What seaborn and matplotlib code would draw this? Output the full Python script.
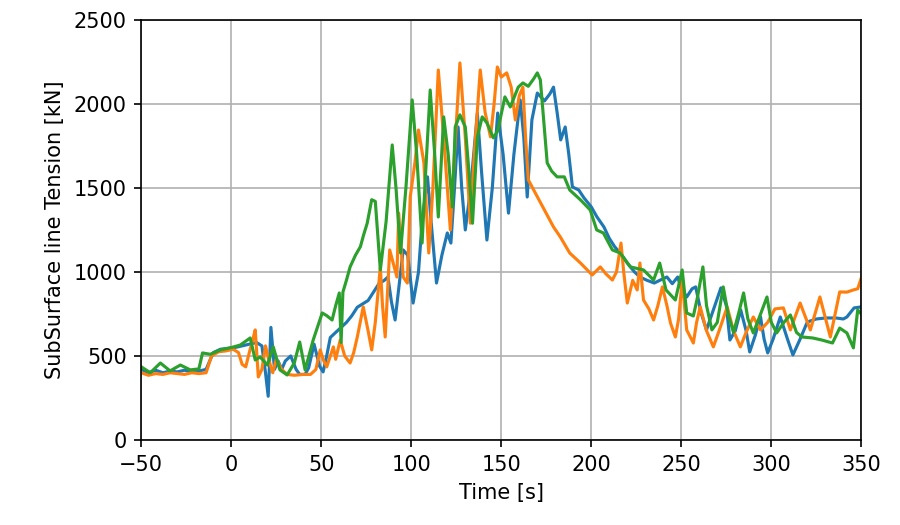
import matplotlib
matplotlib.use("Agg")
import matplotlib.pyplot as plt
import seaborn as sns
import pandas as pd

# ---- data ----
blue_t = [-50, -46, -42, -38, -34, -30, -26, -22, -18, -14, -10, -6, -2, 2, 6, 10, 14, 17, 19, 20.5,
          22, 24, 26, 28, 30, 33, 36, 38, 41, 43, 46, 49, 51, 53, 55, 58, 61, 64, 67, 70,
          73, 76, 79, 82, 85, 87, 89, 91, 93, 95.5, 98, 101, 104, 106, 109, 111, 114, 117, 120, 122,
          124, 126, 128, 130, 133, 136.7, 139, 142, 145, 148, 151, 154, 157, 160.5, 162.5, 164.4, 167, 170, 174, 177,
          179, 181, 183, 185.5, 187.5, 189.5, 193, 196, 200, 203, 207, 210, 213, 217, 220, 224, 227, 231, 235,
          238, 242, 245, 248, 250, 253, 256, 258, 261, 264, 268, 272, 275, 277, 280, 283, 286,
          288, 291, 294, 296, 298, 301, 305, 309, 312, 316, 320, 325, 330, 336, 340, 342, 346, 350]
blue_v = [420, 400, 415, 400, 410, 405, 415, 405, 410, 420,
          520, 540, 545, 550, 560, 570, 580, 560, 400, 260,
          670, 420, 470, 420, 470, 500, 420, 390, 390, 430,
          570, 440, 405, 500, 610, 640, 670, 700, 740, 790,
          810, 830, 880, 930, 950, 970, 820, 714, 900, 1131,
          1100, 815, 1000, 1300, 1566, 1300, 934, 1100, 1232, 1172,
          1500, 1863, 1500, 1250, 1500, 1946, 1600, 1190, 1500, 1946,
          1700, 1350, 1700, 2024, 1800, 1446, 1905, 2065, 2018, 2060,
          2100, 1950, 1786, 1863, 1700, 1506, 1488, 1440, 1387, 1330,
          1268, 1200, 1150, 1100, 1053, 1000, 970, 950, 934,
          950, 970, 930, 970, 900, 851, 900, 911, 756, 655, 780, 905, 800, 595, 650, 774, 650,
          524, 620, 733, 600, 518, 600, 732, 600, 506, 600, 702, 720, 726, 726, 720, 732, 786, 792]

orange_t = [-50, -46, -42, -38, -34, -30, -26, -22, -18, -14,
            -11, -7, -3, 1, 4, 6, 8, 10, 12, 13.3,
            15, 17, 19, 21, 23, 25, 28, 31, 35, 40,
            44, 47, 49.4, 51, 53, 55, 56.7, 58, 60.5, 63,
            66, 68, 70, 73.3, 76, 78, 80, 82.8, 84, 85.5,
            88, 90, 92, 93, 95.5, 97.8, 99.4, 102, 104, 107,
            109.7, 112, 115, 118, 121.7, 124, 127, 130, 132.8, 135,
            138.3, 141, 144, 146, 147.8, 150, 153, 155.5, 157.8, 160,
            162, 163.5, 165, 168, 173, 179, 182.8, 188, 194, 200.5,
            205, 208, 211.7, 214, 216.5, 218, 220, 223, 225.5, 227,
            229, 232, 234.6, 237, 239.5, 242, 244, 246.7, 248.5, 250.5,
            253, 256.7, 258.5, 260.5, 264, 267.8, 271, 275.5, 279, 282.8,
            286, 290, 294, 298, 302, 306.7, 310.6, 316, 321.7, 327,
            332.8, 338, 342, 345.6, 348, 350]
orange_v = [400, 385, 395, 390, 400, 395, 390, 400, 395, 400,
            500, 525, 530, 540, 520, 450, 435, 520, 600, 655,
            375, 420, 560, 470, 400, 480, 420, 390, 385, 390,
            390, 420, 536, 480, 435, 500, 554, 480, 595, 500,
            458, 520, 613, 792, 650, 536, 700, 1030, 800, 613,
            1131, 1050, 970, 1350, 970, 934, 1446, 1650, 1845, 1650,
            1113, 1500, 2202, 1800, 1250, 1700, 2244, 1800, 1290, 1700,
            2202, 1950, 1804, 2000, 2220, 2160, 2185, 2100, 1905, 2050,
            2100, 1800, 1548, 1488, 1387, 1268, 1208, 1113, 1053, 982,
            1030, 990, 952, 1000, 1172, 1000, 815, 950, 893, 1053,
            833, 780, 714, 800, 911, 800, 696, 613, 720, 950,
            655, 577, 700, 792, 650, 554, 650, 792, 650, 554,
            640, 732, 655, 700, 780, 786, 655, 815, 655, 851,
            613, 881, 880, 893, 900, 964]

green_t = [-50, -45, -39.4, -34, -28.3, -22.8, -18, -16, -11.7, -6,
           0, 5, 10.5, 13.3, 16, 20, 23.3, 27, 31, 35,
           38, 41, 45.5, 50.5, 53, 56, 58, 60, 61, 62,
           64, 66, 69, 71.7, 73.5, 75.5, 78, 80, 82.8, 86,
           89.4, 91.5, 94, 97, 100.5, 103, 106, 108, 110.5, 113,
           115, 118, 120.5, 122.8, 124.4, 127, 130, 132, 134, 136.7,
           139.4, 142, 145.6, 148, 152, 155, 159.4, 162, 165, 168,
           170, 171.7, 175.5, 178, 181, 185, 188, 194, 199.4, 203,
           206.7, 211.7, 216, 221.7, 229, 234.6, 238, 241.5, 246.7, 250.5,
           253, 256.7, 259, 262, 264, 267, 270, 273.3, 276, 279,
           282, 284.6, 287, 290, 293, 297.6, 300, 303, 307, 310.6,
           314, 317, 323, 328, 334, 338, 342, 345.6, 348, 350]
green_v = [435, 400, 458, 411, 446, 417, 423, 518, 510, 536,
           550, 565, 607, 476, 494, 446, 554, 417, 387, 458,
           583, 417, 595, 756, 740, 714, 800, 875, 580, 880,
           952, 1030, 1100, 1150, 1220, 1290, 1430, 1420, 1012, 1300,
           1756, 1500, 1113, 1500, 2024, 1700, 1172, 1600, 2083, 1700,
           1327, 1923, 1700, 1387, 1863, 1935, 1863, 1600, 1290, 1804,
           1923, 1887, 1798, 1840, 2042, 1982, 2100, 2125, 2105, 2150,
           2185, 2143, 1649, 1600, 1566, 1566, 1488, 1429, 1369, 1250,
           1232, 1131, 1113, 1030, 1012, 952, 1053, 893, 833, 1012,
           756, 738, 850, 1030, 800, 655, 700, 911, 750, 640,
           760, 875, 720, 637, 720, 851, 700, 637, 700, 744,
           640, 613, 607, 595, 577, 666, 637, 548, 774, 750]

x_ticks = [-50, 0, 50, 100, 150, 200, 250, 300, 350]
y_ticks = [0, 500, 1000, 1500, 2000, 2500]

series = [
    ("blue", blue_t, blue_v, "#1f77b4"),
    ("orange", orange_t, orange_v, "#ff7f0e"),
    ("green", green_t, green_v, "#2ca02c"),
]

fig = plt.figure(figsize=(6, 3.5), dpi=150)
ax = fig.add_axes([0.157, 0.162, 0.8, 0.8])

for name, t, v, col in series:
    df = pd.DataFrame({"t": t, "v": v})
    sns.lineplot(data=df, x="t", y="v", color=col, linewidth=1.5,
                 estimator=None, sort=False, legend=False, ax=ax)

ax.set_xlim(-50, 350)
ax.set_ylim(0, 2500)
ax.set_xticks(x_ticks)
ax.set_yticks(y_ticks)
ax.grid(True, color="#b0b0b0", linewidth=0.8)
ax.set_axisbelow(True)
ax.set_xlabel("Time [s]", fontsize=10)
ax.set_ylabel("SubSurface line Tension [kN]", fontsize=10)
ax.tick_params(labelsize=10)

fig.savefig("out.png", dpi=150)
